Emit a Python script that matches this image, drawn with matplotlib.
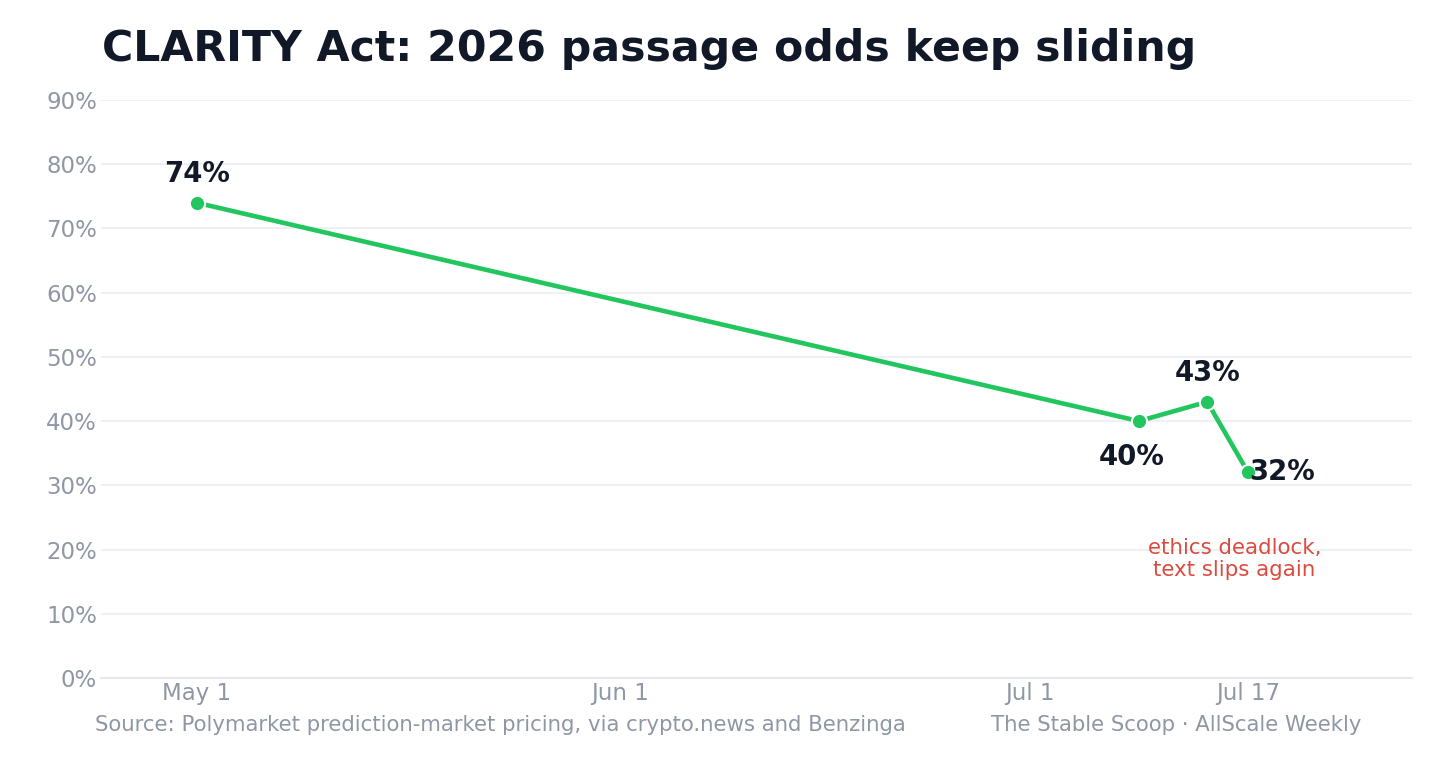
import matplotlib.pyplot as plt
import matplotlib.ticker as mtick
import numpy as np
import datetime as dt

# --- data ---
DATES = ['2026-05-01', '2026-07-09', '2026-07-14', '2026-07-17']
ODDS = [74, 40, 43, 32]
LABEL_OFFSETS = [(0, 10.5), (-5, -15.5), (0, 10.5), (1, 0)]
LABEL_ALIGN = [('center', 'bottom'), ('center', 'top'), ('center', 'bottom'), ('left', 'center')]
TICK_DATES = ['2026-05-01', '2026-06-01', '2026-07-01', '2026-07-17']
TICK_LABELS = ['May 1', 'Jun 1', 'Jul 1', 'Jul 17']

GREEN = '#22c55e'
DARK = '#111827'
GREY = '#8f97a5'
RED = '#dc4b3e'

plt.rcParams['font.family'] = ['DejaVu Sans']

x = [dt.datetime.strptime(d, '%Y-%m-%d') for d in DATES]
ticks = [dt.datetime.strptime(d, '%Y-%m-%d') for d in TICK_DATES]

fig = plt.figure(figsize=(14.56, 7.66), dpi=100)
ax = fig.add_axes([0.0694, 0.1149, 0.9004, 0.7546])

ax.plot(x, ODDS, color=GREEN, lw=3.3, marker='o', markersize=11,
        markerfacecolor=GREEN, markeredgecolor='white', markeredgewidth=1.5,
        solid_capstyle='round', zorder=3)

for xi, yi, off, (ha, va) in zip(x, ODDS, LABEL_OFFSETS, LABEL_ALIGN):
    ax.annotate(f'{yi}%', (xi, yi), xytext=off, textcoords='offset points',
                ha=ha, va=va, fontsize=19.8, fontweight='bold', color=DARK, zorder=4)

ax.text(dt.datetime(2026, 7, 16), 18.5, 'ethics deadlock,\ntext slips again',
        ha='center', va='center', fontsize=15.4, color=RED, linespacing=1.1)

ax.set_xlim(dt.datetime(2026, 4, 24), dt.datetime(2026, 7, 29))
ax.set_ylim(0, 90)
ax.set_yticks(np.arange(0, 91, 10))
ax.yaxis.set_major_formatter(mtick.PercentFormatter(100, decimals=0))
ax.set_xticks(ticks)
ax.set_xticklabels(TICK_LABELS)

ax.tick_params(axis='both', length=0, labelsize=16.5, labelcolor=GREY)
ax.tick_params(axis='y', pad=3)
ax.tick_params(axis='x', pad=3)
ax.yaxis.grid(True, color='#eceef1', lw=1.2)
ax.set_axisbelow(True)
for side in ['top', 'right', 'left']:
    ax.spines[side].set_visible(False)
ax.spines['bottom'].set_color('#e2e5ea')
ax.spines['bottom'].set_linewidth(1.2)

fig.text(0.070, 0.963, 'CLARITY Act: 2026 passage odds keep sliding',
         ha='left', va='top', fontsize=30.7, fontweight='bold', color=DARK)
fig.text(0.065, 0.053, 'Source: Polymarket prediction-market pricing, via crypto.news and Benzinga',
         ha='left', va='center', fontsize=15.3, color=GREY)
fig.text(0.935, 0.053, 'The Stable Scoop \u00b7 AllScale Weekly',
         ha='right', va='center', fontsize=15.3, color=GREY)

fig.savefig('out.png', dpi=100, facecolor='white')
